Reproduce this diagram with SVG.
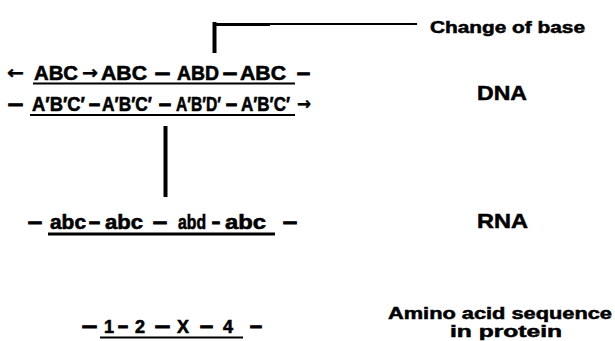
<svg xmlns="http://www.w3.org/2000/svg" width="615" height="341" viewBox="0 0 615 341">
  <style>
    .seq { font-family: "Liberation Sans", Arial, sans-serif; font-weight: bold; font-size: 20px; fill: #000; stroke: #000; stroke-width: 0.6px; }
    .num { font-family: "Liberation Sans", Arial, sans-serif; font-weight: bold; font-size: 18px; fill: #000; stroke: #000; stroke-width: 0.6px; }
    .lbl { font-family: "Liberation Sans", Arial, sans-serif; font-weight: bold; font-size: 20px; fill: #000; stroke: #000; stroke-width: 0.5px; }
    .note { font-family: "Liberation Sans", Arial, sans-serif; font-weight: bold; font-size: 16px; fill: #000; stroke: #000; stroke-width: 0.5px; }
    .d { font-size: 22px; stroke-width: 1.2px; }
    .ar { font-family: "DejaVu Sans", sans-serif; font-size: 18px; stroke-width: 0.4px; }
    .rule { stroke: #000; fill: none; }
  </style>
  <defs>
    <marker id="tip" viewBox="0 0 10 10" refX="9" refY="5" markerWidth="5" markerHeight="5" orient="auto" markerUnits="userSpaceOnUse">
      <path d="M0,2 L10,5 L0,8 Z" fill="#000"/>
    </marker>
  </defs>
  <rect width="615" height="341" fill="#fff"/>

  <!-- DNA double strand -->
  <g id="dna">
    <text class="seq" y="80">
      <tspan class="ar" x="7" dy="-1" textLength="17" lengthAdjust="spacingAndGlyphs">←</tspan>
      <tspan x="34" dy="1" textLength="44" lengthAdjust="spacingAndGlyphs">ABC</tspan>
      <tspan class="ar" x="82" dy="-1" textLength="16" lengthAdjust="spacingAndGlyphs">→</tspan>
      <tspan x="101" dy="1" textLength="46" lengthAdjust="spacingAndGlyphs">ABC</tspan>
      <tspan class="d" x="155" textLength="15" lengthAdjust="spacingAndGlyphs">–</tspan>
      <tspan x="177" textLength="42" lengthAdjust="spacingAndGlyphs">ABD</tspan>
      <tspan class="d" x="223" textLength="14" lengthAdjust="spacingAndGlyphs">–</tspan>
      <tspan x="240" textLength="46" lengthAdjust="spacingAndGlyphs">ABC</tspan>
      <tspan class="d" x="297" textLength="13" lengthAdjust="spacingAndGlyphs">–</tspan>
    </text>
    <line class="rule" x1="33" y1="83.5" x2="295" y2="83.5" stroke-width="2"/>
    <text class="seq" y="111">
      <tspan class="d" x="8" textLength="15" lengthAdjust="spacingAndGlyphs">–</tspan>
      <tspan x="32" textLength="53" lengthAdjust="spacingAndGlyphs">A′B′C′</tspan>
      <tspan class="d" x="89" textLength="11" lengthAdjust="spacingAndGlyphs">–</tspan>
      <tspan x="102" textLength="50" lengthAdjust="spacingAndGlyphs">A′B′C′</tspan>
      <tspan class="d" x="159" textLength="12" lengthAdjust="spacingAndGlyphs">–</tspan>
      <tspan x="176" textLength="45" lengthAdjust="spacingAndGlyphs">A′B′D′</tspan>
      <tspan class="d" x="226" textLength="11" lengthAdjust="spacingAndGlyphs">–</tspan>
      <tspan x="241" textLength="49" lengthAdjust="spacingAndGlyphs">A′B′C′</tspan>
      <tspan class="ar" x="297" dy="-1" textLength="14" lengthAdjust="spacingAndGlyphs">→</tspan>
    </text>
    <line class="rule" x1="30" y1="115" x2="295" y2="115" stroke-width="2"/>
  </g>

  <!-- RNA strand -->
  <g id="rna">
    <text class="seq" y="229">
      <tspan class="d" x="28" textLength="14" lengthAdjust="spacingAndGlyphs">–</tspan>
      <tspan x="50" textLength="36" lengthAdjust="spacingAndGlyphs">abc</tspan>
      <tspan class="d" x="89" textLength="11" lengthAdjust="spacingAndGlyphs">–</tspan>
      <tspan x="105" textLength="38" lengthAdjust="spacingAndGlyphs">abc</tspan>
      <tspan class="d" x="153" textLength="14" lengthAdjust="spacingAndGlyphs">–</tspan>
      <tspan x="178" textLength="28" lengthAdjust="spacingAndGlyphs">abd</tspan>
      <tspan class="d" x="212" textLength="8" lengthAdjust="spacingAndGlyphs">–</tspan>
      <tspan x="225" textLength="41" lengthAdjust="spacingAndGlyphs">abc</tspan>
      <tspan class="d" x="283" textLength="14" lengthAdjust="spacingAndGlyphs">–</tspan>
    </text>
    <line class="rule" x1="48" y1="234" x2="275" y2="234" stroke-width="3"/>
  </g>

  <!-- Protein chain -->
  <g id="protein">
    <text class="num" y="333">
      <tspan class="d" x="82" textLength="15" lengthAdjust="spacingAndGlyphs">–</tspan>
      <tspan x="104">1</tspan>
      <tspan class="d" x="118" textLength="10" lengthAdjust="spacingAndGlyphs">–</tspan>
      <tspan x="135">2</tspan>
      <tspan class="d" x="155" textLength="15" lengthAdjust="spacingAndGlyphs">–</tspan>
      <tspan x="177">X</tspan>
      <tspan class="d" x="200" textLength="13" lengthAdjust="spacingAndGlyphs">–</tspan>
      <tspan x="223">4</tspan>
      <tspan class="d" x="250" textLength="12" lengthAdjust="spacingAndGlyphs">–</tspan>
    </text>
    <line class="rule" x1="100" y1="337.5" x2="243" y2="337.5" stroke-width="2"/>
  </g>

  <!-- Labels -->
  <g id="label-change">
    <text class="note" x="430" y="33" textLength="155" lengthAdjust="spacingAndGlyphs">Change of base</text>
  </g>
  <g id="label-dna">
    <text class="lbl" x="477" y="100" textLength="50" lengthAdjust="spacingAndGlyphs">DNA</text>
  </g>
  <g id="label-rna">
    <text class="lbl" x="477" y="228" textLength="51" lengthAdjust="spacingAndGlyphs">RNA</text>
  </g>
  <g id="label-protein">
    <text class="note" x="388" y="319" textLength="224" lengthAdjust="spacingAndGlyphs">Amino acid sequence</text>
    <text class="note" x="450" y="337" textLength="112" lengthAdjust="spacingAndGlyphs">in protein</text>
  </g>

  <!-- Connectors -->
  <g id="connectors">
    <line class="rule" x1="214.5" y1="22" x2="214.5" y2="53" stroke-width="4"/>
    <line class="rule" x1="214" y1="24.5" x2="270" y2="24.5" stroke-width="3"/>
    <line class="rule" x1="270" y1="24" x2="417" y2="24" stroke-width="2" marker-end="url(#tip)"/>
    <line class="rule" x1="165.5" y1="126" x2="165.5" y2="197" stroke-width="4"/>
  </g>
</svg>
